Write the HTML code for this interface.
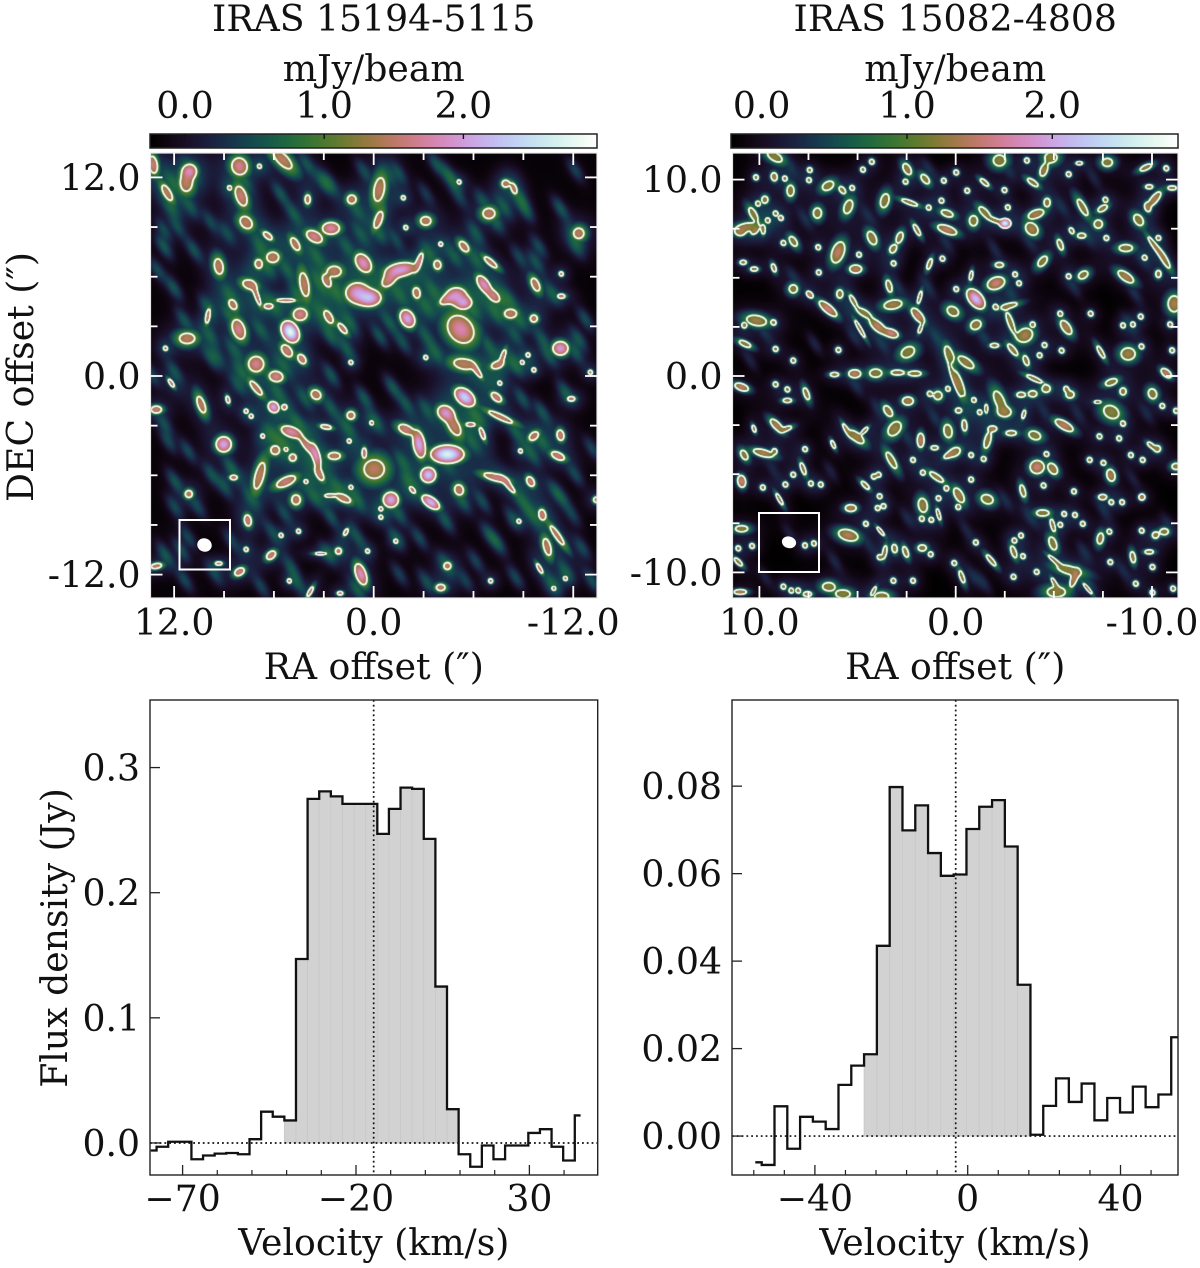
<!DOCTYPE html>
<html lang="en">
<head>
<meta charset="utf-8">
<title>IRAS 15194-5115 and IRAS 15082-4808 maps and spectra</title>
<style>
html,body{margin:0;padding:0;background:#fff;}
#figure{position:relative;width:1200px;height:1268px;overflow:hidden;background:#fff;}
canvas{position:absolute;display:block;}
#overlay{position:absolute;left:0;top:0;}
text{font-family:"DejaVu Serif","Liberation Serif",serif;fill:#111;font-size:36.2px;}
</style>
</head>
<body>
<div id="figure">
<canvas id="cbarA" style="left:150px;top:134px" width="447" height="14"></canvas>
<canvas id="cbarB" style="left:731px;top:134px" width="447" height="14"></canvas>
<canvas id="mapA" style="left:150px;top:153px" width="447" height="445"></canvas>
<canvas id="mapB" style="left:732px;top:153px" width="446" height="445"></canvas>
<svg id="overlay" width="1200" height="1268" viewBox="0 0 1200 1268" xmlns="http://www.w3.org/2000/svg"></svg>
</div>
<script>
/* ---------- spectrum data ---------- */
const specAVelocity = [-79.18,-75.83,-72.48,-69.13,-65.78,-62.43,-59.08,-55.73,-52.38,-49.03,-45.68,-42.33,-38.98,-35.63,-32.28,-28.93,-25.58,-22.23,-18.88,-15.53,-12.18,-8.83,-5.48,-2.13,1.22,4.57,7.92,11.27,14.62,17.97,21.32,24.67,28.02,31.37,34.72,38.07,41.42,44.77];
const specAFlux = [-0.006,-0.003,0.001,0.001,-0.013,-0.010,-0.0085,-0.008,-0.009,0.003,0.025,0.021,0.018,0.147,0.275,0.281,0.277,0.271,0.271,0.271,0.247,0.267,0.284,0.283,0.243,0.125,0.027,-0.009,-0.019,-0.002,-0.013,-0.002,-0.002,0.008,0.011,-0.003,-0.014,0.022];
const specAShadedChannels = [12,26];
const specASystemicVelocity = [-14.9];
const specAXTicks = [-70,-20,30];
const specAXTickLabels = ['\u221270','\u221220','30'];
const specAXMinorTicks = [-60,-50,-40,-30,-10,0,10,20,40];
const specAYTicks = [0,0.1,0.2,0.3];
const specAYTickLabels = ['0.0','0.1','0.2','0.3'];

const specBVelocity = [-55.6,-52.25,-48.9,-45.55,-42.2,-38.85,-35.5,-32.15,-28.8,-25.45,-22.1,-18.75,-15.4,-12.05,-8.7,-5.35,-2,1.35,4.7,8.05,11.4,14.75,18.1,21.45,24.8,28.15,31.5,34.85,38.2,41.55,44.9,48.25,51.6,54.95];
const specBFlux = [-0.0060,-0.0066,0.0068,-0.0029,0.0044,0.0033,0.0016,0.0117,0.0161,0.0187,0.0435,0.0798,0.0699,0.0756,0.0647,0.0595,0.0598,0.0702,0.0753,0.0768,0.0662,0.0346,0.0003,0.0069,0.0132,0.0078,0.0120,0.0036,0.0087,0.0054,0.0113,0.0066,0.0095,0.0226];
const specBShadedChannels = [9,21];
const specBSystemicVelocity = [-3.14];
const specBXTicks = [-40,0,40];
const specBXTickLabels = ['\u221240','0','40'];
const specBXMinorTicks = [-56,-48,-32,-24,-16,-8,8,16,24,32,48];
const specBYTicks = [0,0.02,0.04,0.06,0.08];
const specBYTickLabels = ['0.00','0.02','0.04','0.06','0.08'];

/* ---------- map data: emission knots, offsets in arcsec ----------
   rows: RA offset, DEC offset, contour half-length, contour half-width, tilt deg, peak mJy/beam */
const mapASources = [
[13.3,12.8,.5,.25,80,1.6],[11.1,12.4,.4,.4,0,1.8],[11.3,11.7,.35,.5,0,1.5],[12.45,11.1,.5,.2,60,1.3],[8.1,12.7,.5,.45,70,1.7],[5.5,13.1,.7,.3,45,1.5],
[8,10.9,.6,.3,70,1.6],[7.7,9.3,.4,.3,45,1.4],[4,10.7,.25,.15,90,1.25],[1.35,10.7,.25,.25,0,1.35],[-.3,11.3,.7,.3,100,1.4],[-.25,9.45,.5,.2,110,1.4],
[-3.1,9.4,.3,.25,0,1.4],[2.6,8.95,.5,.35,0,1.8],[3.6,8.45,.5,.3,30,1.7],[6.4,8.5,.3,.15,40,1.25],[4.75,8,.4,.2,60,1.4],[-6.9,9.85,.35,.3,0,1.5],
[-7.9,11.65,.2,.2,0,1.25],[-8.4,11.35,.3,.15,70,1.25],[-12.3,8.65,.3,.3,45,1.5],[-5.4,7.85,.35,.2,50,1.4],[-7,6.9,.45,.15,40,1.35],[-3.8,6.75,.25,.2,80,1.25],
[.65,6.85,.6,.4,55,1.9],[-1.6,6.45,.9,.4,-10,2.0],[-2.7,6.95,.5,.15,-70,1.6],[-.9,5.85,.5,.3,-45,1.6],[6.1,7.2,.35,.3,0,1.5],[9.35,6.65,.45,.25,80,1.5],
[6.95,6.8,.25,.2,80,1.3],[2.4,6.35,.4,.3,0,1.4],[2.85,5.75,.35,.2,60,1.3],[4.2,5.55,.7,.25,80,1.5],[7.5,5.55,.4,.25,20,1.4],[7.05,4.85,.5,.12,70,1.3],
[1,5.05,.7,.6,0,2.0],[.3,4.75,.7,.5,0,2.2],[-2.55,5.05,.3,.2,80,1.3],[-4.95,4.85,.6,.5,0,1.9],[-5.4,4.45,.45,.35,0,1.9],[-4.35,4.65,.4,.2,-30,1.4],
[-6.6,5.55,.6,.3,55,1.9],[-7.2,4.85,.4,.25,45,1.6],[-9.7,5.55,.4,.2,65,1.5],[-11.25,4.85,.2,.12,0,1.25],[4.45,3.75,.4,.35,0,1.7],[-2,3.5,.55,.4,60,2.1],
[2.75,3.6,.4,.2,60,1.4],[1.9,2.9,.35,.15,50,1.4],[8.5,4.35,.3,.2,60,1.3],[6.35,4.25,.25,.15,0,1.3],[5.3,4.6,.5,.1,0,1.25],[10,3.65,.4,.12,100,1.25],
[8.15,2.85,.6,.35,70,1.7],[5.05,2.7,.7,.5,60,2.8],[-5.2,2.85,.9,.7,50,1.8],[-8.2,3.8,.35,.25,0,1.5],[-9.6,3.5,.2,.2,0,1.3],[11.25,2.3,.45,.3,0,1.5],
[5.25,1.55,.4,.25,50,1.6],[4.35,1.05,.3,.2,55,1.6],[7.1,.75,.45,.45,0,1.7],[5.9,0,.4,.3,10,1.7],[12.2,-.4,.25,.1,55,1.25],[7.1,-.7,.5,.17,50,1.4],
[3.5,-1.1,.3,.25,40,1.5],[10.4,-1.7,.5,.2,70,1.4],[8.8,-1.4,.2,.1,75,1.25],[6.05,-1.85,.35,.3,50,2.1],[5.4,-1.85,.15,.15,0,1.3],[13.1,-2,.3,.2,0,1.6],
[1.4,-2.35,.22,.22,0,1.3],[5,-3.35,.6,.3,20,1.8],[4,-4.2,.6,.2,50,1.6],[3.5,-4.8,.7,.22,75,1.8],[3.3,-5.9,.4,.18,60,1.5],[2.9,-3.05,.3,.12,10,1.25],
[5.95,-4.45,.25,.25,0,1.35],[9.05,-4.1,.45,.45,0,2.1],[4.9,-4.9,.2,.2,0,1.25],[2.4,-4.8,.35,.2,0,1.5],[0,-5.6,.6,.55,0,1.5],[.6,-4.6,.25,.12,90,1.25],
[-1.9,-3.2,.45,.25,25,1.6],[-2.7,-4.1,.8,.35,80,2.1],[-4.4,-4.7,1,.55,0,2.7],[-3.25,-5.95,.45,.45,0,2.3],[-4.3,-2.2,.5,.4,30,1.9],[-4.8,-3,.6,.3,60,1.5],
[-5.45,-1.25,.7,.45,40,2.4],[-5.4,.75,.6,.3,10,1.4],[-6.2,.3,.4,.12,55,1.3],[-7.4,.7,.35,.2,-20,1.5],[-7.75,1.25,.35,.12,-70,1.4],[-7.35,-1.25,.35,.2,40,1.6],
[-7.6,-2.45,.75,.15,25,1.35],[-5.8,-2.9,.25,.12,0,1.25],[-6.5,-3.45,.35,.12,70,1.3],[-9.6,-3.6,.3,.2,-40,1.4],[-11.2,-3.55,.3,.2,80,1.6],[-11.05,-4.8,.4,.2,25,1.6],
[-11.85,-1.35,.2,.13,0,1.3],[-11.2,1.7,.45,.4,0,2],[-7.3,-6.1,.7,.2,15,1.6],[-8.1,-6.6,.5,.13,50,1.4],[-9.4,-6.35,.3,.2,60,1.6],[-5.1,-6.85,.3,.25,70,1.4],
[-1,-7.45,.45,.45,0,2.1],[-3.4,-7.6,.6,.3,35,2.2],[-2.3,-6.85,.22,.12,50,1.25],[1.85,-7.35,.45,.2,25,1.5],[2.7,-7.2,.25,.1,0,1.25],[4.7,-7.45,.28,.25,90,1.4],
[5.3,-6.35,.6,.25,-25,1.6],[6.9,-6,.8,.25,-75,1.5],[8.45,-6.1,.2,.13,0,1.3],[11.15,-7.1,.2,.2,0,1.4],[7.6,-8.7,.32,.2,80,1.6],[-10.1,-8.35,.3,.2,80,1.6],
[-11,-9.6,.65,.15,55,1.4],[-10.4,-10.3,.5,.2,75,1.5],[-9.95,-11.6,.3,.1,60,1.3],[6.2,-10.8,.3,.2,-40,1.6],[8.1,-11.8,.3,.2,-30,1.6],[13.1,-11.45,.3,.14,-10,1.4],
[9.35,-11.3,.18,.1,0,1.25],[3.2,-10.7,.3,.08,0,1.25],[2.15,-10.55,.17,.17,0,1.25],[1.7,-9.4,.2,.1,-60,1.25],[.8,-11.95,.65,.3,70,1.9],[-4.4,-11.45,.2,.2,0,1.25],
[-4,-12.75,.25,.18,0,1.5],[3.85,-13,.3,.1,-60,1.3],[2.05,-13.1,.15,.1,0,1.25],[-13.35,-7.45,.15,.15,0,1.3]
];
const mapATinySources = [[6.9,12.7],[8.7,11.4],[-1.75,10.8],[-1.9,9],[-5.1,11.75],[-4,8],[12.55,1.7],[7.7,-2.1],[7.4,-2.4],[.15,-2.8],[6.7,-3.6],[5.3,-4.4],[1.5,-3.9],[4.1,-6.35],[1.4,-6.7],[-7.55,-.4],[-8.8,-4.5],[-8.7,-8.75],[7.7,-10.45],[.4,-10.55],[5.1,-12.35],[-7,-12.35],[-10.8,-12.8],[-11.5,-12.2],[-9.25,1.3],[-8.9,.85],[-9.6,.4],[-13,.25],[1.4,.85],[-3.1,1.15],[5.6,-9.6],[4.55,-9.35],[-.4,-8],[-.4,-8.5],[-11.25,6.2],[-1.3,-9.95]];
const mapAHaze = [
[3.05,11.75,1],[5.65,11.05,.9],[4.85,9.85,.9],[2.65,11.65,.9],[12.25,10.25,.8],[12.65,7.85,1],[10.85,7.65,.9],[13.05,6.45,.8],[12.05,5.35,.95],[8.85,8.65,.7],[9.85,9.35,.7],[6.85,7.85,.8],[5.25,6.45,.8],[3.45,7.25,.8],[3.25,5.65,.8],[2.25,5.05,.9],[8.65,4.85,.85],[8.65,3.65,.8],[10.05,4.25,.75],[11.45,3.45,.8],[9.85,2.45,.7],[6.85,2.85,.85],[6.05,4.25,.7],[4.65,5.05,.75],[2.65,2.45,.85],[1.65,1.65,.85],[.85,8.65,.7],[1.05,10.05,.7],[1.65,7.85,.75],[9.45,1.25,.7],[8.45,1.65,.75],[5.45,.65,.7],[11.05,12.45,.8],[12.05,11.65,.75],[12.65,8.85,.75],[7.85,11.85,.7],[4.05,12.85,.75],[.65,12.45,.7],[1.45,3.25,.85],[3.05,3.65,.8],[11.05,10.25,.7],[6.45,6.65,.8],[11.85,9.05,.7],
[-.8,12.26,.7],[-1.5,12.26,.7],[-3.7,12.86,.85],[-4.4,12.26,.7],[-4.7,11.86,.7],[-6.5,10.66,.7],[-7.8,10.26,.8],[-8.8,10.76,.9],[-9.1,10.06,.9],[-11.2,10.16,.95],[-12.1,12.46,.75],[-6.1,8.66,.85],[-7.3,9.36,.85],[-5.1,10.86,.6],[-3.1,11.06,.6],[-1.3,8.26,.7],[-.3,8.66,.8],[-4.8,7.26,.8],[-3.3,7.46,.75],[-6.1,7.06,.65],[-8.7,7.26,.7],[-9.9,7.86,.8],[-9.7,6.96,.8],[-12.1,7.86,.75],[-12.7,3.46,.85],[-10.7,5.06,.8],[-3.5,5.26,.85],[-1.5,4.96,.8],[-3.1,4.26,.75],[-.9,3.26,.85],[-.3,2.46,.9],[-1.7,2.06,.75],[-3.1,2.46,.75],[-3.7,1.46,.8],[-7.5,4.86,.9],[-8.1,4.66,.85],[-7.3,3.86,.8],[-8.7,3.46,.8],[-8.5,2.46,.7],[-6.9,1.86,.85],[-8.5,.66,.95],[-10.1,2.26,.75],[-12.3,2.26,.85],[-12.1,1.46,.8],[-10.5,1.26,.75],[-5.9,4.06,.8],[-12.1,8.46,.75],
[-1.1,-.64,1],[-1.9,-1.64,.85],[-.08,-2.74,.85],[-11.5,-.94,.95],[-8.9,-1.34,.9],[-10.1,-2.14,.9],[-6.1,-2.34,.85],[-3.1,-1.94,.7],[-5.9,-3.94,.8],[-1.7,-5.14,.85],[-2.1,-6.34,.9],[-5.3,-7.54,.85],[-6.5,-7.54,.8],[-4.3,-8.74,.9],[-2.7,-9.74,.8],[-7.4,-10.04,1],[-6.1,-11.14,.75],[-4.3,-11.34,.9],[-8.9,-7.54,.85],[-9.5,-4.74,.85],[-10.1,-3.94,.8],[-11.3,-7.34,.7],[-12.1,-5.94,.75],[-13.1,-4.34,.75],[-8.5,-12.14,.8],[-10.7,-12.54,.8],[-13.1,-12.34,.85],[-1.5,-11.94,.7],[-3.1,-12.34,.75],[-5.5,-12.34,.65],[-9.5,-8.34,.8],[-8.3,-8.54,.75],[-11.9,-8.34,.65],[-1.5,-8.34,.8],[-1.3,-9.74,.8],[-6.9,-9.54,.85],[-12.5,-10.34,.75],[-11.5,-11.74,.85],[-4.3,-5.14,.75],[-10.9,-6.94,.8],[-8.5,-3.34,.8],
[12,.3,.85],[9.8,1.1,.85],[13.4,.1,.8],[8.6,-5.5,.95],[12,-6.3,.9],[9.8,-5.9,.85],[11.2,-4.5,.8],[12.4,-3.9,.75],[4.6,-2.8,1],[5.6,-3.9,.9],[2.6,.1,.95],[2.6,-1.9,.85],[.6,-1.3,.95],[1.6,-3.1,.85],[6.2,-3.5,.8],[11.6,-10.5,.85],[12.6,-10.7,.9],[11.2,-9.7,.75],[6.2,-9.3,.7],[5.4,-8.3,.7],[2.6,-8.5,.85],[1,-9.7,.85],[2.8,-10.7,.8],[5,-11.5,.85],[1,-12.9,.9],[4.6,-12.5,.75],[6.8,-12.7,.75],[9.6,-11.9,.75],[11.4,-12.3,.8],[7.4,-7.3,.75],[9,-6.7,.75],[10.6,-7.9,.7],[12,-7.9,.75],[3.6,-7.3,.8],[2.2,-6.7,.8],[1,-7.5,.85],[8.6,-9.9,.7],[8,.3,.75],[5.8,-.9,.8],[4.2,-1.3,.8],[8.2,-.5,.75],[12.6,-2.9,.75]
];
const mapBSources = [
[9.24,11.19,.4,.2,30,1.1],[9.27,10.17,.2,.15,80,1.35],[6.53,9.71,.3,.2,-30,1.15],[8.44,9.46,.27,.17,90,1.1],[5.8,9.49,.2,.12,50,1.05],[9.75,9,.17,.15,90,1.05],
[5.5,8.64,.35,.2,-70,1.2],[7.07,8.32,.25,.2,90,1.1],[10.34,8.27,.35,.15,60,1.2],[3.64,8.95,.35,.2,-75,1.25],[2.5,10.56,.3,.17,60,1.3],[1.58,10.05,.27,.15,50,1.1],
[-1.44,9.88,.25,.1,40,1.05],[-2.2,11,.3,.27,0,1.1],[-4.83,11.15,.3,.25,0,1.2],[-4.46,10.5,.3,.17,-70,1.3],[-3.9,9.88,.3,.12,35,1.1],[-6.27,10.86,.15,.08,0,1.05],
[-7.7,10.9,.25,.2,0,1.1],[-9.66,10.64,.3,.12,-25,1.1],[2.37,8.86,.4,.1,20,1.1],[.46,8.3,.3,.15,20,1.15],[-1.44,8.36,.35,.15,45,1.15],[-2.03,7.93,.3,.1,20,1.1],
[-2.49,7.8,.3,.25,0,2.6],[-.88,7.93,.25,.2,90,1.2],[-4.07,8.27,.4,.2,-20,1.4],[-3.85,7.51,.35,.27,45,1.4],[-4.63,8.86,.2,.15,90,1.05],[-6.44,8.61,.45,.15,60,1.2],
[-7.46,8.56,.25,.13,-30,1.1],[-7.24,7.76,.2,.2,0,1.1],[-10.1,9.03,.45,.17,-50,1.4],[-9.75,8.61,.2,.12,70,1.05],[-9.29,7.97,.3,.2,55,1.25],[-9.83,9.66,.17,.1,0,1.05],
[-11,9.6,.2,.1,0,1.05],[10.68,7.6,.5,.2,-10,1.3],[11,7.34,.2,.15,0,1.05],[10.25,7.42,.2,.12,-45,1.05],[9.83,7.47,.2,.1,90,1.05],[8.3,6.88,.27,.15,55,1.2],
[4.29,7.05,.35,.2,65,1.3],[2.88,7.08,.27,.15,-70,1.1],[2,7.46,.3,.1,60,1.05],[.46,7.47,.5,.2,20,1.5],[3.22,6.49,.2,.15,-60,1.1],[6.02,6.32,.55,.3,-70,1.5],
[-5.3,6.71,.27,.12,70,1.1],[-5.88,7.42,.15,.1,60,1.05],[-6.39,7.17,.2,.12,0,1.05],[-8.64,6.54,.33,.17,0,1.25],[-10.1,6.66,.5,.1,55,1.1],[-10.6,5.98,.5,.13,60,1.1],
[1.36,5.73,.27,.1,-70,1.05],[5.12,5.47,.3,.2,0,1.45],[10.85,5.81,.15,.1,0,1.05],[10.29,5.47,.17,.1,0,1.05],[9.29,5.53,.2,.1,70,1.05],[-2.2,5.68,.2,.12,0,1.05],
[-4.4,5.86,.3,.17,-50,1.1],[-6.47,5.17,.25,.17,-30,1.1],[-8.64,5.08,.45,.2,35,1.4],[-10.3,5.22,.17,.13,90,1.05],[-.76,5.14,.22,.08,-80,1.05],[-2.03,4.75,.45,.3,-20,1.6],
[8.3,4.46,.2,.2,0,1.15],[7.46,4.17,.2,.13,45,1.5],[5.93,4.2,.2,.15,90,1.1],[3.42,4.6,.3,.13,75,1.1],[-1,3.95,.6,.35,50,2.2],[1.86,4.03,.3,.08,-75,1.05],
[6.53,3.45,.55,.2,40,1.6],[5.25,3.86,.3,.1,60,1.05],[4.7,3.24,.35,.15,30,1.15],[3.22,3.66,.45,.22,-10,1.35],[1.95,3.1,.45,.2,50,1.5],[1.83,2.42,.2,.08,-70,1.05],
[.17,3.32,.3,.22,30,1.1],[-1,2.63,.27,.22,-30,1.3],[-2.7,3.6,.4,.12,-15,1.05],[-2.76,2.76,.5,.13,70,1.1],[-3.5,2.1,.4,.33,-30,1.4],[-5.6,2.5,.4,.2,55,1.4],
[-11.1,3.7,.4,.3,90,1.4],[10.17,2.85,.5,.25,10,1.35],[3.98,2.54,.5,.22,40,1.5],[3.3,2.2,.35,.2,20,1.6],[4.9,2.42,.45,.08,60,1.05],[10.76,1.66,.3,.12,25,1.05],
[2.46,1.24,.35,.25,-30,1.2],[.37,1.15,.4,.17,70,1.2],[-.5,.72,.45,.2,35,1.3],[-1.95,1.58,.2,.1,0,1.05],[-2.88,1.36,.35,.13,50,1.3],[-3.56,.81,.25,.12,70,1.1],
[-7.37,1.24,.33,.1,60,1.1],[-8.76,1.15,.35,.3,0,1.35],[5.17,.14,.3,.2,0,1.5],[4.1,.17,.3,.2,0,1.15],[3,.2,.3,.12,0,1.1],[2.1,.15,.3,.12,0,1.05],[6.2,.1,.2,.1,0,1.05],
[10.93,-.54,.35,.17,20,1.5],[.08,-.2,.7,.1,70,1.1],[-.19,-.37,.6,.13,70,1.1],[-3.98,-.12,.4,.1,25,1.05],[-7.9,-.29,.3,.15,-20,1.1],[-10.7,.17,.3,.17,40,1.5],
[7.63,-.88,.3,.12,70,1.1],[8.6,-1.22,.2,.1,0,1.05],[.93,-.97,.2,.2,0,1.2],[2.46,-1.25,.27,.2,0,1.4],[3.47,-1.76,.3,.17,55,1.3],[-2.2,-1.22,.5,.22,65,1.2],
[-2.46,-1.81,.3,.2,0,1.2],[-3.3,-.93,.2,.12,0,1.05],[-3.9,-.88,.2,.15,0,1.05],[-4.58,-.63,.2,.17,0,1.05],[-5.8,-.92,.2,.17,0,1.05],[-10,-.88,.25,.2,70,1.2],
[-8.5,-.76,.17,.15,90,1.05],[-7.9,-1.81,.4,.3,30,1.2],[-7.2,-1.3,.15,.07,0,1.05],[-1.53,-1.64,.2,.08,90,1.05],[-.12,-1.73,.15,.12,0,1.05],[-3.44,-1.93,.2,.08,-75,1.05],
[-.42,-2.49,.27,.12,85,1.1],[.42,-2.78,.33,.2,80,1.2],[3.14,-2.66,.4,.27,-50,1.3],[9.15,-2.49,.4,.17,45,1.4],[8.64,-2.66,.25,.1,-20,1.05],[10.3,-2.66,.17,.08,70,1.05],
[5.08,-3.08,.45,.2,40,1.35],[5.6,-2.7,.3,.08,60,1.05],[4.66,-2.75,.2,.08,-45,1.05],[1.81,-3.25,.35,.17,90,1.5],[-1.86,-2.66,.2,.13,0,1.35],[-1.6,-3.25,.4,.15,-75,1.2],
[-2.8,-2.88,.25,.12,0,1.1],[-4,-3,.3,.2,20,1.1],[-5.5,-2.49,.5,.2,30,1.5],[-9.92,-3.5,.2,.1,40,1.05],[-10.25,-3.68,.15,.15,0,1.05],[10.8,-4,.25,.15,60,1.25],
[9.83,-3.9,.5,.17,15,1.4],[7.8,-4.7,.3,.1,70,1.1],[6.27,-3.46,.2,.08,65,1.05],[3.3,-4.27,.45,.15,60,1.2],[1.1,-3.63,.17,.1,0,1.05],[.08,-3.85,.3,.2,-30,1.3],
[.42,-4.02,.2,.1,-30,1.05],[-4.12,-4.61,.35,.33,0,1.6],[-4.92,-4.7,.3,.2,55,1.35],[-11.2,-4.58,.2,.15,0,1.1],[10.93,-5.34,.3,.2,80,1.6],[4.63,-5.54,.25,.1,45,1.05],
[1,-5.12,.4,.13,35,1.25],[-.14,-6.05,.4,.2,60,1.35],[-3.39,-5.83,.3,.12,75,1.15],[-7.88,-5.03,.3,.2,75,1.4],[-7.46,-6.14,.2,.13,0,1.35],[-9.46,-6.14,.15,.15,0,1.4],
[-1.58,-6.25,.3,.22,20,1.25],[1.7,-6.56,.35,.22,80,1.3],[5.37,-6.7,.27,.17,0,1.4],[9,-6.25,.3,.08,60,1.05],[10.93,-7.75,.3,.15,0,1.1],[-4.4,-6.95,.3,.15,0,1.1],
[-4.92,-7.58,.3,.1,75,1.05],[.9,-7.02,.27,.08,75,1.05],[5.5,-8.08,.5,.27,15,1.45],[3.85,-7.88,.25,.07,50,1.05],[-7.34,-8.25,.27,.15,-80,1.1],[-10.6,-7.9,.2,.15,0,1.1],
[-10.15,-8.08,.15,.15,0,1.05],[-4.92,-8.5,.33,.17,70,1.1],[3.64,-8.93,.3,.1,-80,1.15],[3.14,-8.76,.2,.13,80,1.05],[2.58,-8.93,.27,.12,70,1.1],[1.73,-8.73,.2,.15,0,1.1],
[-2.93,-8.93,.3,.12,70,1.15],[-1.78,-9.36,.33,.1,50,1.05],[11.1,-9.44,.25,.1,45,1.1],[-9,-9.2,.27,.12,80,1.1],[-9.83,-8.93,.2,.1,0,1.05],[-5,-9.36,.35,.08,40,1.05],
[-5.76,-9.86,.6,.2,15,1.2],[-6,-10.3,.4,.15,-70,1.4],[-.29,-10.2,.3,.1,70,1.05],[-5.1,-10.97,.45,.25,0,1.2],[-5,-10.5,.25,.08,60,1.05],[-6.7,-10.8,.3,.07,50,1.05],
[11,-10.97,.3,.12,0,1.4],[6.5,-10.7,.3,.2,0,1.1],[5.76,-11.08,.35,.2,0,1.15],[7.58,-11.08,.2,.12,0,1.25],[4.2,-10.9,.2,.07,-60,1.05],[3.8,-11.2,.35,.2,0,1.1]
];
const mapBTinySources = [[10.2,10.14],[8.73,10.08],[7.46,10.51],[7.5,10],[5.3,9.6],[10.1,8.8],[9.2,8.3],[9.6,7.95],[8.93,8.07],[4.75,10.53],[4.3,10.93],[.63,9.97],[2.58,9.92],[-.56,9.46],[-2.46,9.49],[-3.6,11],[-5.73,10.3],[0,10.39],[.75,8.95],[1.4,8.6],[-2.63,8.61],[-7.6,9],[-10.7,10.6],[8.8,6.8],[7.03,6.58],[4.95,6.2],[-7.65,7.05],[-9.6,6.05],[-10.3,7.05],[3.19,5.76],[7,5.3],[.7,6],[-5.73,5.1],[-3,5.2],[-3.2,4.75],[0,4.45],[-5.3,3.2],[-6.85,3.2],[-9.4,3.05],[-9,2.65],[-10.9,2.65],[-8.5,2.6],[9.3,2.75],[10.8,2.6],[-3.9,2.65],[-2,3.55],[9.2,1.4],[8.3,.81],[6,1.35],[-4.5,1.6],[-4.25,1.08],[-5.37,1.32],[-9.44,1.53],[-11,1.33],[9.2,-.4],[8.6,-.66],[1.35,-.88],[.42,-.63],[-.9,-1.2],[-1.2,-1.82],[-5.6,-.63],[-8.5,-2.4],[-10.5,-1.5],[-11.2,-1.75],[-7.3,-3.05],[-8.3,-3.15],[9.25,-3.8],[7.7,-3.7],[-.76,-4],[-1.4,-4.2],[2.2,-4.25],[-4.6,-3.95],[-7.5,-4.4],[-6.8,-4.25],[-8.9,-4],[-9.5,-4.25],[8.3,-5],[8.7,-5.5],[7.4,-5.45],[6.9,-5.5],[9.85,-5.65],[4.2,-5.1],[3.95,-5],[1.7,-4.9],[-.76,-5.25],[.5,-5.7],[-4.45,-5.55],[-6,-5.85],[-7.9,-6.4],[-8.45,-6.4],[3.9,-6.1],[4,-6.7],[3.7,-6.6],[.9,-6.2],[-.1,-6.65],[1.75,-7.25],[1.27,-7.3],[-5.5,-7],[-6.05,-7.05],[-6.45,-7.5],[-5.3,-7.55],[-7.8,-7.9],[-9.45,-7.85],[4.6,-7.5],[-1,-8.45],[-2.97,-8.35],[-3.3,-8.1],[1.3,-9.05],[3.9,-9.2],[-3.4,-9.15],[.1,-9.5],[10.4,-8.63],[11.1,-8.75],[7.7,-8.6],[7.25,-8.5],[-7.85,-9.45],[-10,-9.7],[-4.1,-9.95],[-2.92,-10.2],[3.2,-10.4],[2.2,-10.4],[-9.15,-10.55],[8.8,-10.7],[8.4,-10.9],[8.05,-10.9],[-10,-11],[-11.05,-10.8]];
const mapBHaze = [
[7.7,8,.8],[8.3,5.1,.8],[-1.95,6.5,.8],[-5.4,8.6,.75],[-3.7,6.9,.75],[-1.4,2,.85],[1,2,.8],[7.2,1.66,.8],[-9.1,4.2,.8],[1.4,4.5,.75],[5.2,2,.8],[-2.8,4.2,.8],[-8.8,2.7,.75],[9.75,2.2,.75],[10.5,.8,.7],[3.8,1.66,.8],[-6.7,7.1,.7],[-2.6,10.6,.75],[1.4,10.6,.75],[-7,10.1,.7],[8.5,10.8,.7],
[6.2,-9.4,.8],[-1.4,-10.5,.85],[-6.5,-8.9,.8],[-.6,-1,.8],[1.1,-2.1,.8],[2.5,-3.1,.75],[9.3,-4.8,.65],[6.4,-4.8,.7],[5.1,-.5,.75],[-6.2,-1.9,.7],[-9.7,-1.9,.7],[-3.8,-7.2,.8],[-2.5,-6.3,.75],[-7.5,-6.8,.75],[2.5,-7.2,.75],[-.9,-10.2,.8],[-8.5,-9.9,.7],[9.75,-10.2,.7],[4,-1.6,.7],[-10.8,-7.5,.7],[-6.7,-10.5,.85],[4.5,8.2,.65],[-6,4.5,.7],[-9.5,6,.7],[.5,6.8,.7],[3,4.6,.7],[-4.5,-1.8,.65],[4.5,-8.5,.7],[-.5,-7.8,.7],[-9,-5.2,.65],[8.5,-8,.65]
];

/* ---------- map and colorbar axes ---------- */
const mapAXTicks = [12,0,-12];
const mapAXTickLabels = ['12.0','0.0','-12.0'];
const mapAMinorTicks = [9,6,3,-3,-6,-9];
const mapAYTickLabels = ['12.0','0.0','-12.0'];
const mapBXTicks = [10,0,-10];
const mapBXTickLabels = ['10.0','0.0','-10.0'];
const mapBMinorTicks = [7.5,5,2.5,-2.5,-5,-7.5];
const mapBYTickLabels = ['10.0','0.0','-10.0'];
const colorbarTicks = [0,1,2];
const colorbarTickLabels = ['0.0','1.0','2.0'];

const NS = 'http://www.w3.org/2000/svg';
const svg = document.getElementById('overlay');
function svgEl(tag, attrs, parent){
  const el = document.createElementNS(NS, tag);
  for (const k in attrs) el.setAttribute(k, attrs[k]);
  (parent || svg).appendChild(el);
  return el;
}
function scale(d0, d1, r0, r1){
  return function(v){ return r0 + (v - d0) * (r1 - r0) / (d1 - d0); };
}
function cubehelix(l){
  const start = 0.5, rot = -1.5, hue = 1;
  const phi = 2 * Math.PI * (start / 3 + rot * l);
  const a = hue * l * (1 - l) / 2;
  const c = Math.cos(phi), s = Math.sin(phi);
  const cl = function(v){ return Math.max(0, Math.min(1, v)); };
  return [
    255 * cl(l + a * (-0.14861 * c + 1.78277 * s)),
    255 * cl(l + a * (-0.29227 * c - 0.90649 * s)),
    255 * cl(l + a * (1.97294 * c))
  ];
}
function drawColorbar(id){
  const c = document.getElementById(id), ctx = c.getContext('2d');
  for (let x = 0; x < c.width; x++){
    const col = cubehelix(x / (c.width - 1));
    ctx.fillStyle = 'rgb(' + col.map(Math.round).join(',') + ')';
    ctx.fillRect(x, 0, 1, c.height);
  }
}
function drawMap(id, cfg){
  const c = document.getElementById(id), ctx = c.getContext('2d');
  const W = c.width, H = c.height;
  const hazeBuf = new Float32Array(W * H), srcBuf = new Float32Array(W * H);
  const base = -0.2, level = cfg.threshold - base;
  function addGauss(buf, px, py, sa, sb, ang, amp, pow){
    const th = ang * Math.PI / 180, co = Math.cos(th), si = Math.sin(th);
    const R = 3.6 * Math.max(sa, sb);
    const x0 = Math.max(0, Math.floor(px - R)), x1 = Math.min(W - 1, Math.ceil(px + R));
    const y0 = Math.max(0, Math.floor(py - R)), y1 = Math.min(H - 1, Math.ceil(py + R));
    for (let y = y0; y <= y1; y++) for (let x = x0; x <= x1; x++){
      const dx = x - px, dy = y - py;
      const u = (dx * co + dy * si) / sa, v = (-dx * si + dy * co) / sb;
      const val = amp * Math.exp(-0.5 * (u * u + v * v));
      buf[y * W + x] += pow === 3 ? val * val * val : val;
    }
  }
  const toX = function(ra){ return cfg.cx - ra * cfg.sx; };
  const toY = function(dec){ return cfg.cy - dec * cfg.sy; };
  function addSource(ra, dec, a, b, ang, peak){
    const amp = Math.max(peak - base, level * 1.25);
    const k = Math.sqrt(2 * Math.log(amp / level));
    const sa = Math.max(a * cfg.sx / k, 1.6), sb = Math.max(b * cfg.sx / k, 1.6);
    addGauss(srcBuf, toX(ra), toY(dec), sa, sb, ang, amp, 3);
    addGauss(hazeBuf, toX(ra), toY(dec), sa * 1.5 + 2.5, sb * 1.5 + 2.5, ang, level * cfg.halo, 1);
  }
  cfg.sources.forEach(function(s){ addSource(s[0], s[1], s[2], s[3], s[4], s[5]); });
  cfg.tiny.forEach(function(s){ addSource(s[0], s[1], 0.12, 0.11, 60, cfg.threshold + 0.1); });
  cfg.haze.forEach(function(h){
    addGauss(hazeBuf, toX(h[0]), toY(h[1]), cfg.hazeA * cfg.sx, cfg.hazeB * cfg.sx, 58, h[2] * cfg.hazeAmp, 1);
    addGauss(hazeBuf, toX(h[0]), toY(h[1]), cfg.hazeA * 1.9 * cfg.sx, cfg.hazeB * 2 * cfg.sx, 58, h[2] * cfg.hazeAmp * 0.13, 1);
  });
  const field = new Float32Array(W * H);
  const cap = level * cfg.hazeCap;
  for (let i = 0; i < field.length; i++){
    const h = cap * (1 - Math.exp(-hazeBuf[i] / cap));
    field[i] = base + Math.max(h, Math.cbrt(srcBuf[i]));
  }
  const img = ctx.createImageData(W, H);
  for (let y = 0; y < H; y++) for (let x = 0; x < W; x++){
    const i = y * W + x, f = field[i];
    const l = Math.max(0, Math.min(1, (f - cfg.vmin) / (cfg.vmax - cfg.vmin)));
    const col = cubehelix(l);
    const xm = x > 0 ? field[i - 1] : f, xp = x < W - 1 ? field[i + 1] : f;
    const ym = y > 0 ? field[i - W] : f, yp = y < H - 1 ? field[i + W] : f;
    const gx = (xp - xm) / 2, gy = (yp - ym) / 2;
    const g = Math.sqrt(gx * gx + gy * gy) + 1e-5;
    const d = Math.abs(f - cfg.threshold) / g;
    const al = Math.max(0, Math.min(1, 1.45 - d));
    const j = i * 4;
    img.data[j] = col[0] + (255 - col[0]) * al;
    img.data[j + 1] = col[1] + (255 - col[1]) * al;
    img.data[j + 2] = col[2] + (255 - col[2]) * al;
    img.data[j + 3] = 255;
  }
  ctx.putImageData(img, 0, 0);
}
drawColorbar('cbarA');
drawColorbar('cbarB');
drawMap('mapA', {sources: mapASources, tiny: mapATinySources, haze: mapAHaze, cx: 223.7, cy: 223, sx: 16.63, sy: 16.55, vmin: -0.25, vmax: 2.96, threshold: 1.15, hazeA: 0.52, hazeB: 0.22, hazeAmp: 1.0, hazeCap: 0.95, halo: 0.36});
drawMap('mapB', {sources: mapBSources, tiny: mapBTinySources, haze: mapBHaze, cx: 223.7, cy: 223, sx: 19.63, sy: 19.64, vmin: -0.21, vmax: 2.865, threshold: 0.95, hazeA: 0.42, hazeB: 0.17, hazeAmp: 0.6, hazeCap: 0.9, halo: 0.26});

/* ---------- text helper ---------- */
function label(x, y, txt, anchor, name){
  const t = svgEl('text', {x: x, y: y, 'text-anchor': anchor});
  t.textContent = txt;
  
  
  return t;
}

/* ---------- map panels ---------- */
function mapPanel(o){
  const g = svgEl('g', {});
  
  
  const xs = o.xs, ys = o.ys;
  const frame = svgEl('rect', {x: o.l, y: o.t, width: o.r - o.l, height: o.b - o.t, fill: 'none', stroke: '#e8e8e8', 'stroke-width': 1.2}, g);
  
  
  function ticks(values, len){
    values.forEach(function(v){
      [[xs(v), o.b, xs(v), o.b - len], [xs(v), o.t, xs(v), o.t + len], [o.l, ys(v), o.l + len, ys(v)], [o.r, ys(v), o.r - len, ys(v)]].forEach(function(p){
        const tk = svgEl('line', {x1: p[0], y1: p[1], x2: p[2], y2: p[3], stroke: '#fff', 'stroke-width': 1.8}, g);
        
        
      });
    });
  }
  ticks(o.major, 12);
  ticks(o.minor, 7);
  o.major.forEach(function(v, i){
    label(xs(v), 635, o.xLabels[i], 'middle', 'x-tick-label');
    label(o.l - 10, ys(v) + 13, o.yLabels[i], 'end', 'y-tick-label');
  });
  label((o.l + o.r) / 2, 679, 'RA offset (\u2033)', 'middle', 'x-axis-title');
  label((o.l + o.r) / 2, 31, o.title, 'middle', 'panel-title');
  label((o.l + o.r) / 2, 81, 'mJy/beam', 'middle', 'colorbar-title');
  const box = svgEl('rect', {x: o.box[0], y: o.box[1], width: o.box[2], height: o.box[3], fill: 'none', stroke: '#fff', 'stroke-width': 2}, g);
  
  
  const beam = svgEl('ellipse', {cx: o.beam[0], cy: o.beam[1], rx: o.beam[2], ry: o.beam[3], transform: 'rotate(' + o.beam[4] + ' ' + o.beam[0] + ' ' + o.beam[1] + ')', fill: '#fff'}, g);
  
  
  const cb = svgEl('rect', {x: o.cb, y: 134, width: 447, height: 14, fill: 'none', stroke: '#222', 'stroke-width': 1.5}, g);
  
  
  const cs = o.cs;
  colorbarTicks.forEach(function(v, i){
    const tk = svgEl('line', {x1: cs(v), y1: 134, x2: cs(v), y2: 139, stroke: '#111', 'stroke-width': 1.4}, g);
    
    
    label(cs(v), 118, colorbarTickLabels[i], 'middle', 'colorbar-tick-label');
  });
}
mapPanel({name: 'map-panel-left', l: 150.5, r: 597, t: 153, b: 598, title: 'IRAS 15194-5115',
  xs: scale(0, 1, 373.7, 357.07), ys: scale(0, 1, 376, 359.45), cs: scale(0, 1, 185, 324.2),
  major: mapAXTicks, minor: mapAMinorTicks, xLabels: mapAXTickLabels, yLabels: mapAYTickLabels,
  cb: 150, box: [179.5, 520, 50.5, 49.5], beam: [204.5, 545, 7.3, 6.7, 20]});
mapPanel({name: 'map-panel-right', l: 732.5, r: 1178, t: 153, b: 598, title: 'IRAS 15082-4808',
  xs: scale(0, 1, 955.7, 936.07), ys: scale(0, 1, 376, 356.36), cs: scale(0, 1, 761.7, 907),
  major: mapBXTicks, minor: mapBMinorTicks, xLabels: mapBXTickLabels, yLabels: mapBYTickLabels,
  cb: 731, box: [759, 513, 60, 59], beam: [789, 542.3, 7.2, 5.8, 15]});

const decTitle = label(0, 0, 'DEC offset (\u2033)', 'middle', 'y-axis-title-dec');
decTitle.setAttribute('transform', 'translate(33 377) rotate(-90)');
const fluxTitle = label(0, 0, 'Flux density (Jy)', 'middle', 'y-axis-title-flux');
fluxTitle.setAttribute('transform', 'translate(67 938) rotate(-90)');

/* ---------- spectrum panels ---------- */
function spectrumPanel(o){
  const g = svgEl('g', {});
  
  
  const xs = scale(o.xlim[0], o.xlim[1], o.l, o.r);
  const ys = scale(o.ylim[0], o.ylim[1], o.b, o.t);
  const half = (o.vel[1] - o.vel[0]) / 2;
  for (let i = o.shade[0]; i <= o.shade[1]; i++){
    const x0 = xs(o.vel[i] - half), x1 = xs(o.vel[i] + half);
    const bar = svgEl('rect', {x: x0, y: ys(o.flux[i]), width: x1 - x0, height: ys(0) - ys(o.flux[i]), fill: '#d2d2d2', stroke: '#c8c8c8', 'stroke-width': 0.8}, g);
    
    
  }
  const h0 = svgEl('line', {x1: o.l, x2: o.r, y1: ys(0), y2: ys(0), stroke: '#111', 'stroke-width': 1.7, 'stroke-dasharray': '1.8 3'}, g);
  
  
  const v0 = svgEl('line', {x1: xs(o.sys[0]), x2: xs(o.sys[0]), y1: o.t, y2: o.b, stroke: '#111', 'stroke-width': 1.7, 'stroke-dasharray': '1.8 3'}, g);
  
  
  let d = 'M' + Math.max(xs(o.vel[0]), o.l) + ' ' + ys(o.flux[0]);
  for (let i = 1; i < o.vel.length; i++){
    const mid = xs((o.vel[i - 1] + o.vel[i]) / 2);
    d += 'L' + mid + ' ' + ys(o.flux[i - 1]) + 'L' + mid + ' ' + ys(o.flux[i]);
  }
  d += 'L' + Math.min(xs(o.vel[o.vel.length - 1]), o.r) + ' ' + ys(o.flux[o.flux.length - 1]);
  const step = svgEl('path', {d: d, fill: 'none', stroke: '#111', 'stroke-width': 2.3, 'stroke-linejoin': 'miter'}, g);
  
  
  const frame = svgEl('rect', {x: o.l, y: o.t, width: o.r - o.l, height: o.b - o.t, fill: 'none', stroke: '#222', 'stroke-width': 1.4}, g);
  
  
  o.xMajor.forEach(function(v, i){
    const t = svgEl('line', {x1: xs(v), x2: xs(v), y1: o.b, y2: o.b - 10, stroke: '#222', 'stroke-width': 1.3}, g);
    
    
    label(xs(v), 1211, o.xLabels[i], 'middle', 'x-tick-label');
  });
  o.xMinor.forEach(function(v){
    const t = svgEl('line', {x1: xs(v), x2: xs(v), y1: o.b, y2: o.b - 5, stroke: '#222', 'stroke-width': 1.2}, g);
    
    
  });
  o.yMajor.forEach(function(v, i){
    const t = svgEl('line', {x1: o.l, x2: o.l + 10, y1: ys(v), y2: ys(v), stroke: '#222', 'stroke-width': 1.3}, g);
    
    
    label(o.l - 10, ys(v) + 13, o.yLabels[i], 'end', 'y-tick-label');
  });
  label((o.l + o.r) / 2, 1255, 'Velocity (km/s)', 'middle', 'x-axis-title');
}
spectrumPanel({name: 'spectrum-panel-left', l: 150, r: 597.7, t: 700, b: 1175, xlim: [-79.4, 49.7], ylim: [-0.0256, 0.354],
  vel: specAVelocity, flux: specAFlux, shade: specAShadedChannels, sys: specASystemicVelocity,
  xMajor: specAXTicks, xLabels: specAXTickLabels, xMinor: specAXMinorTicks, yMajor: specAYTicks, yLabels: specAYTickLabels});
spectrumPanel({name: 'spectrum-panel-right', l: 732, r: 1178, t: 700, b: 1175, xlim: [-61.7, 55.05], ylim: [-0.0089, 0.0997],
  vel: specBVelocity, flux: specBFlux, shade: specBShadedChannels, sys: specBSystemicVelocity,
  xMajor: specBXTicks, xLabels: specBXTickLabels, xMinor: specBXMinorTicks, yMajor: specBYTicks, yLabels: specBYTickLabels});
</script>
</body>
</html>
